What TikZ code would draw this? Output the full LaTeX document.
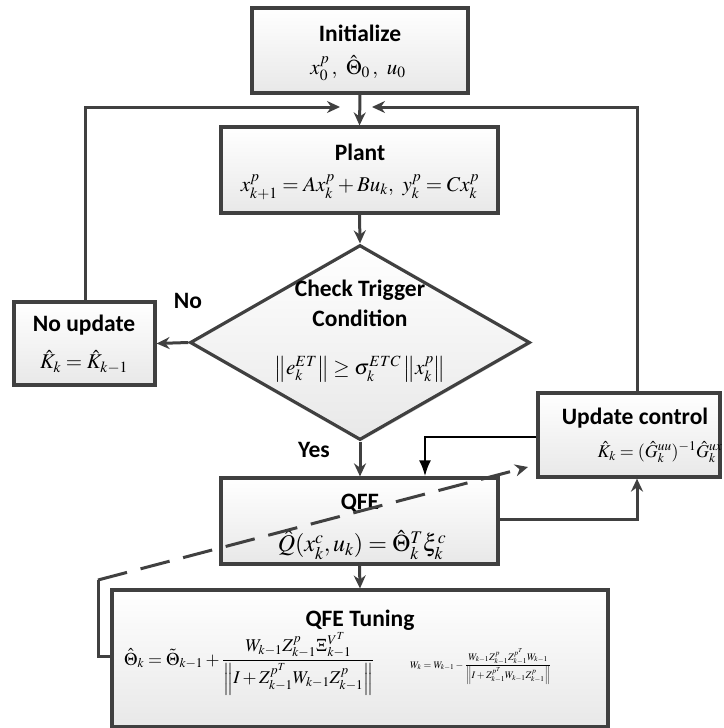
\documentclass[tikz,border=0pt]{standalone}
\usepackage{amsmath}
\usepackage{mathptmx}
\usepackage[no-math]{fontspec}
\newfontfamily\carl{Carlito}
\usetikzlibrary{arrows.meta,shapes.geometric,shadows,calc}
\definecolor{edge}{HTML}{404040}
\tikzset{
  box/.style={draw=edge, line width=3.2pt, top color=white, bottom color=black!9,
    inner sep=0pt, drop shadow={shadow xshift=1.5pt, shadow yshift=-1.5pt, opacity=0.25}},
  lbl/.style={font=\carl\fontsize{23.5}{27}\selectfont\bfseries, inner sep=0pt},
  mth/.style={font=\fontsize{21}{25}\selectfont, inner sep=0pt},
  conn/.style={draw=edge, line width=3pt, -{Stealth[length=13pt,width=12pt]}},
  wire/.style={draw=edge, line width=3pt},
  blk/.style={draw=black, line width=2.6pt, -{Latex[length=16pt,width=12pt]}},
}
\begin{document}
\begin{tikzpicture}[x=1pt,y=-1pt]
\useasboundingbox (0,0) rectangle (723,728);
% boxes
\node[box, minimum width=216pt, minimum height=85pt] (init) at (360,50.5) {};
\node[box, minimum width=277pt, minimum height=86pt] (plant) at (359.5,170) {};
\node[box, diamond, minimum width=340pt, minimum height=195pt] (cond) at (360,342.5) {};
\node[box, minimum width=141pt, minimum height=83pt] (noupd) at (84.5,343.5) {};
\node[box, minimum width=182pt, minimum height=84pt] (upd) at (629,435) {};
\node[box, minimum width=277pt, minimum height=86pt] (qfe) at (359.5,521) {};
\node[box, minimum width=496pt, minimum height=137pt] (tune) at (360,658.5) {};
% texts
\node[lbl] (tinit) at (360,33) {Initialize};
\node[mth] (minit) at (358,68) {$x_0^p\,,\ \hat{\Theta}_0\,,\ u_0$};
\node[lbl] (tplant) at (360,152) {Plant};
\node[mth] (mplant) at (360,187) {$x_{k+1}^p = Ax_k^p + Bu_k,\ y_k^p = Cx_k^p$};
\node[lbl] (tc1) at (360,290) {Check Trigger};
\node[lbl] (tc2) at (360,318) {Condition};
\node[mth] (mcond) at (360,369) {$\left\| e_k^{ET} \right\| \geq \sigma_k^{ETC} \left\| x_k^p \right\|$};
\node[lbl] (tno) at (84,325) {No update};
\node[mth] (mno) at (84,362) {$\hat{K}_k = \hat{K}_{k-1}$};
\node[lbl] (tupd) at (635,418) {Update control};
\node[mth, font=\fontsize{18}{22}\selectfont] (mupd) at (660,452) {$\hat{K}_k = (\hat{G}_k^{uu})^{-1}\hat{G}_k^{ux}$};
\node[lbl] (tqfe) at (360,503) {QFE};
\node[mth, font=\fontsize{24}{28}\selectfont] (mqfe) at (362,545) {$\hat{Q}(x_k^c,u_k) = \hat{\Theta}_k^T \xi_k^c$};
\node[lbl] (ttune) at (360,620) {QFE Tuning};
\node[mth, font=\fontsize{18}{22}\selectfont, anchor=base west] (mtune) at (124,665) {$\hat{\Theta}_k = \tilde{\Theta}_{k-1} + \dfrac{W_{k-1} Z_{k-1}^p \Xi_{k-1}^{V^T}}{\left\| I + Z_{k-1}^{p^T} W_{k-1} Z_{k-1}^p \right\|}$};
\node[font=\fontsize{10}{12}\selectfont, inner sep=0pt, anchor=base west] (mw) at (410,668) {$W_k = W_{k-1} - \dfrac{W_{k-1} Z_{k-1}^p Z_{k-1}^{p^T} W_{k-1}}{\left\| I + Z_{k-1}^{p^T} W_{k-1} Z_{k-1}^p \right\|}$};
\node[lbl] (tyes) at (314,450) {Yes};
\node[lbl] (tnolbl) at (188,301) {No};
% helper coordinates
\coordinate (la) at (340,107);
\coordinate (ra) at (372,107);
\coordinate (ux) at (637,0);
\coordinate (lx) at (85,0);
\coordinate (bx) at (425,0);
\coordinate (by) at (0,437);
\coordinate (qy) at (0,519);
\coordinate (ty) at (0,656);
\coordinate (dc1) at (98,656);
\coordinate (dc2) at (98,580);
\coordinate (dtip) at (528,467);
% connectors
\draw[conn] (init.south) -- (plant.north);
\draw[conn] (noupd.north -| lx) |- (la);
\draw[conn] (upd.north -| ux) |- (ra);
\draw[conn] (plant.south) -- (cond.north);
\draw[conn] (cond.west) -- (noupd.east);
\draw[conn] (cond.south) -- (qfe.north -| cond.south);
\draw[blk] (upd.west |- by) -| (qfe.north -| bx);
\draw[conn] (qfe.east |- qy) -| (upd.south -| ux);
\draw[conn] (qfe.south) -- (tune.north);
\draw[wire, line join=miter] (tune.west |- ty) -- (dc1) -- (dc2);
\draw[conn, dash pattern=on 30pt off 14pt] (dc2) -- (dtip);
\end{tikzpicture}
\end{document}
